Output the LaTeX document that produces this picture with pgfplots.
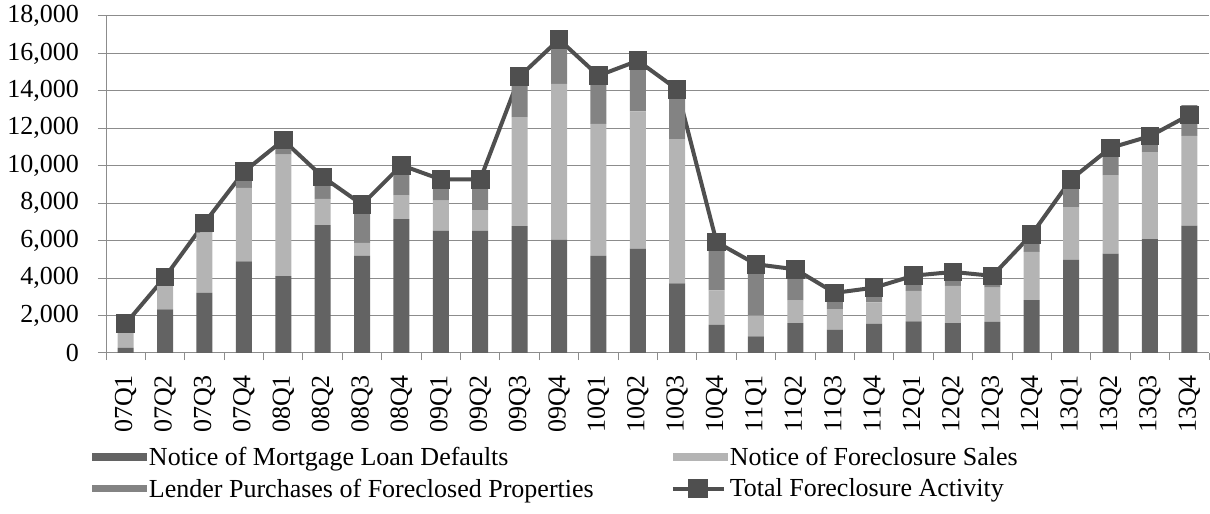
\documentclass[border=0pt]{standalone}
\usepackage{pgfplots}
\usepackage{pgfplotstable}
\pgfplotsset{compat=1.18}
\usepackage{fontspec}
\setmainfont{Liberation Serif}
\definecolor{cDef}{HTML}{636363}
\definecolor{cSal}{HTML}{B4B4B4}
\definecolor{cLen}{HTML}{838383}
\definecolor{cLine}{HTML}{4F4F4F}
\definecolor{cGrid}{HTML}{8C8C8C}
\pgfplotstableread{
x lab D S L T
0 07Q1 270 850 450 1570
1 07Q2 2330 1320 410 4060
2 07Q3 3210 3220 520 6950
3 07Q4 4900 3920 860 9680
4 08Q1 4100 6490 780 11370
5 08Q2 6830 1400 1180 9410
6 08Q3 5190 690 2050 7930
7 08Q4 7150 1280 1600 10030
8 09Q1 6520 1620 1130 9270
9 09Q2 6520 1110 1640 9270
10 09Q3 6770 5830 2170 14770
11 09Q4 6040 8340 2370 16750
12 10Q1 5190 7050 2570 14810
13 10Q2 5580 7320 2710 15610
14 10Q3 3720 7700 2660 14080
15 10Q4 1500 1850 2570 5920
16 11Q1 890 1110 2740 4740
17 11Q2 1600 1230 1640 4470
18 11Q3 1250 1100 860 3210
19 11Q4 1550 1160 780 3490
20 12Q1 1690 1630 810 4130
21 12Q2 1600 1980 750 4330
22 12Q3 1660 1830 630 4120
23 12Q4 2830 2570 940 6340
24 13Q1 4970 2820 1490 9280
25 13Q2 5310 4190 1460 10960
26 13Q3 6080 4650 850 11580
27 13Q4 6810 4790 1640 12710
}\data
\begin{document}
\begin{tikzpicture}[font=\fontsize{26bp}{31bp}\selectfont]
\path[use as bounding box] (0bp,0bp) rectangle (1210bp,514bp);
\begin{axis}[
  at={(106bp,161bp)}, anchor=south west,
  scale only axis, width=1103bp, height=337bp,
  xmin=-0.5, xmax=27.5, ymin=0, ymax=18000,
  ybar stacked, bar width=16bp,
  axis lines*=left,
  axis line style={draw=cGrid, line width=1bp, -},
  ytick={0,2000,...,18000},
  scaled y ticks=false,
  ymajorgrids, grid style={draw=cGrid, line width=1bp},
  xtick={0,...,27},
  xticklabels from table={\data}{lab},
  minor xtick={-0.5,0.5,...,27.5},
  tick align=outside,
  major tick length=8bp, minor tick length=7bp,
  tick style={draw=cGrid, line width=1bp},
  major x tick style={draw=none},
  xticklabel shift=14bp,
  yticklabel shift=19bp,
  xticklabel style={rotate=90, anchor=east, inner sep=0pt, font=\fontsize{26bp}{31bp}\selectfont},
  yticklabel style={inner sep=0pt, font=\fontsize{26bp}{31bp}\selectfont},
  /pgf/number format/.cd, 1000 sep={,}, assume math mode=true, /pgfplots/.cd,
  legend columns=2,
  legend cell align=left,
  legend style={at={(axis description cs:-0.0127,-0.276)}, anchor=north west,
    draw=none, fill=none, inner sep=0pt, outer sep=0pt,
    font=\fontsize{26bp}{31bp}\selectfont,
    nodes={inner sep=1bp},
    /tikz/every odd column/.append style={column sep=1bp},
    /tikz/every even column/.append style={column sep=76bp},
    /tikz/row sep=10bp},
]
\addplot[fill=cDef, draw=none,
  legend image code/.code={\fill[cDef] (0bp,-3.7bp) rectangle (55bp,3.7bp);}]
  table[x=x, y=D] {\data};
\addlegendentry{Notice of Mortgage Loan Defaults}
\addplot[fill=cSal, draw=none,
  legend image code/.code={\fill[cSal] (0bp,-3.7bp) rectangle (55bp,3.7bp);}]
  table[x=x, y=S] {\data};
\addlegendentry{Notice of Foreclosure Sales}
\addplot[fill=cLen, draw=none,
  legend image code/.code={\fill[cLen] (0bp,-3.7bp) rectangle (55bp,3.7bp);}]
  table[x=x, y=L] {\data};
\addlegendentry{Lender Purchases of Foreclosed Properties}
\addplot[stack plots=false, sharp plot, draw=cLine, line width=4bp,
  mark=square*, mark size=7.3bp, mark options={fill=cLine, draw=none},
  legend image code/.code={\draw[cLine, line width=4bp] (0bp,0bp) -- (51bp,0bp);
    \fill[cLine] (17.5bp,-7.5bp) rectangle (33.5bp,7.5bp);}]
  table[x=x, y=T] {\data};
\addlegendentry{Total Foreclosure Activity}
\end{axis}
\end{tikzpicture}
\end{document}
